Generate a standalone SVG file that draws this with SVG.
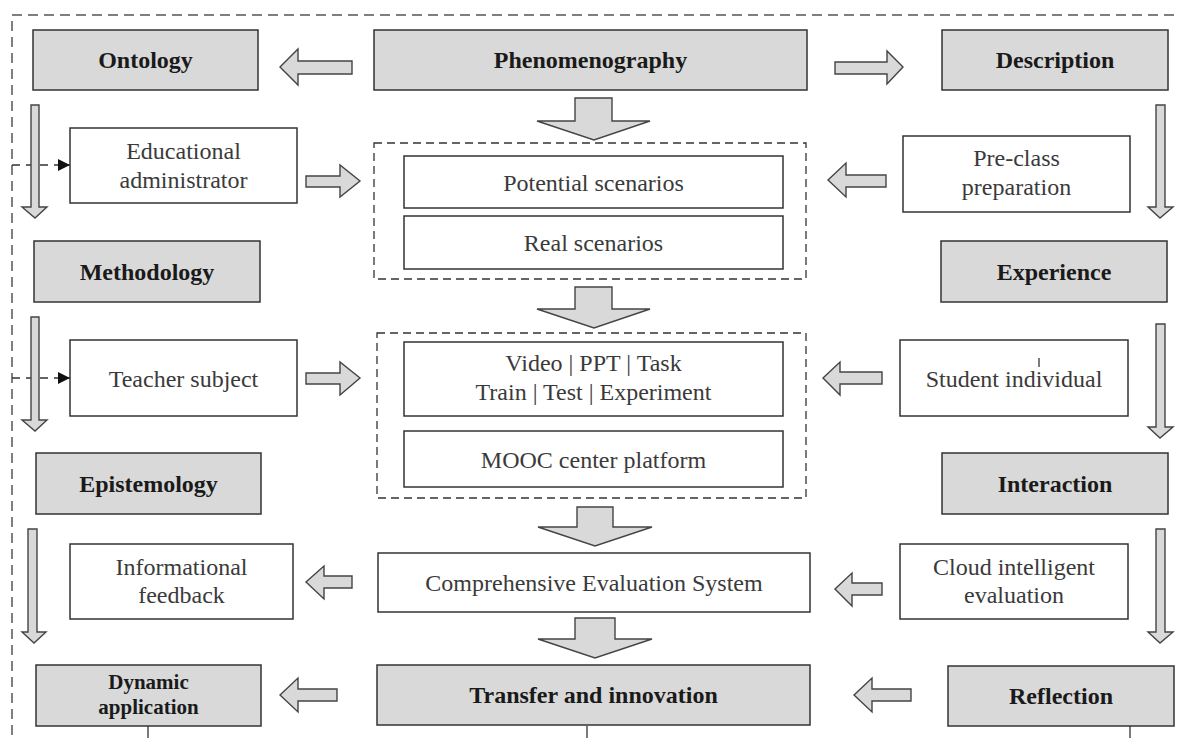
<svg xmlns="http://www.w3.org/2000/svg" width="1179" height="738" viewBox="0 0 1179 738">
<style>
.g{fill:#d9d9d9;stroke:#333;stroke-width:1.5}
.w{fill:#fff;stroke:#333;stroke-width:1.5}
.grp{fill:none;stroke:#333;stroke-width:1.3;stroke-dasharray:8 5}
.ar{fill:#d9d9d9;stroke:#444;stroke-width:1.4;stroke-linejoin:miter}
.b{font-family:"Liberation Serif",serif;font-weight:bold;font-size:24px;fill:#1a1a1a;text-anchor:middle}
.t{font-family:"Liberation Serif",serif;font-size:24px;fill:#3a3a3a;text-anchor:middle}
.dc{fill:none;stroke:#333;stroke-width:1.3;stroke-dasharray:8 6}
.tk{stroke:#333;stroke-width:1.3}
</style>
<defs>
<marker id="ah" viewBox="0 0 10 10" refX="10" refY="5" markerWidth="12" markerHeight="12" markerUnits="userSpaceOnUse" orient="auto">
<path d="M0,0 L10,5 L0,10 z" fill="#111"/>
</marker>
</defs>
<rect width="1179" height="738" fill="#fff"/>
<path d="M12,735 V15 H1179" fill="none" stroke="#555" stroke-width="1.5" stroke-dasharray="10 6"/>

<g id="connectors">
<path class="dc" d="M12,165 H70" marker-end="url(#ah)"/>
<path class="dc" d="M12,378 H70" marker-end="url(#ah)"/>
<line class="tk" x1="148" y1="726" x2="148" y2="738"/>
<line class="tk" x1="587" y1="726" x2="587" y2="738"/>
<line class="tk" x1="1130" y1="726" x2="1130" y2="738"/>
<polygon class="ar" points="280,67 298,49 298,61 352,61 352,74 298,74 298,85"/>
<polygon class="ar" points="835,62 887,62 887,51 903,67 887,84 887,74 835,74"/>
<polygon class="ar" points="306,176 340,176 340,165 360,181 340,197 340,187 306,187"/>
<polygon class="ar" points="306,373 340,373 340,362 360,378 340,395 340,384 306,384"/>
<polygon class="ar" points="828,180 846,163 846,175 886,175 886,187 846,187 846,197"/>
<polygon class="ar" points="823,378 840,362 840,372 882,372 882,384 840,384 840,395"/>
<polygon class="ar" points="306,582 324,566 324,576 352,576 352,588 324,588 324,599"/>
<polygon class="ar" points="835,589 852,573 852,583 882,583 882,595 852,595 852,606"/>
<polygon class="ar" points="280,695 298,678 298,689 337,689 337,701 298,701 298,712"/>
<polygon class="ar" points="854,695 872,678 872,689 911,689 911,701 872,701 872,712"/>
<polygon class="ar" points="575,98 612,98 612,121 650,121 594,140 537,121 575,121"/>
<polygon class="ar" points="575,287 612,287 612,309 650,309 594,328 537,309 575,309"/>
<polygon class="ar" points="577,507 613,507 613,527 652,527 595,546 538,527 577,527"/>
<polygon class="ar" points="575,618 615,618 615,639 652,639 595,658 538,639 575,639"/>
<polygon class="ar" points="31,105 39,105 39,207 47,207 35,218 22,207 31,207"/>
<polygon class="ar" points="31,317 39,317 39,420 47,420 35,431 22,420 31,420"/>
<polygon class="ar" points="28,529 37,529 37,632 46,632 34,643 22,632 28,632"/>
<polygon class="ar" points="1156,105 1165,105 1165,207 1173,207 1160,218 1148,207 1156,207"/>
<polygon class="ar" points="1156,324 1165,324 1165,427 1173,427 1160,438 1148,427 1156,427"/>
<polygon class="ar" points="1156,529 1165,529 1165,632 1173,632 1160,643 1148,632 1156,632"/>
</g>

<g id="ontology"><rect class="g" x="33" y="30" width="225" height="60"/><text class="b" x="145.5" y="68">Ontology</text></g>
<g id="phenomenography"><rect class="g" x="374" y="30" width="433" height="60"/><text class="b" x="590.5" y="68">Phenomenography</text></g>
<g id="description"><rect class="g" x="942" y="30" width="226" height="60"/><text class="b" x="1055" y="68">Description</text></g>

<g id="educational-administrator"><rect class="w" x="70" y="128" width="227" height="75"/><text class="t" x="183.5" y="159">Educational</text><text class="t" x="183.5" y="188">administrator</text></g>
<g id="scenarios-group"><rect class="grp" x="374" y="143" width="432" height="136"/></g>
<g id="potential-scenarios"><rect class="w" x="404" y="156" width="379" height="52"/><text class="t" x="593.5" y="191">Potential scenarios</text></g>
<g id="real-scenarios"><rect class="w" x="404" y="216" width="379" height="53"/><text class="t" x="593.5" y="251">Real scenarios</text></g>
<g id="pre-class"><rect class="w" x="903" y="136" width="227" height="76"/><text class="t" x="1016.5" y="166">Pre-class</text><text class="t" x="1016.5" y="195">preparation</text></g>

<g id="methodology"><rect class="g" x="34" y="241" width="226" height="61"/><text class="b" x="147" y="280">Methodology</text></g>
<g id="experience"><rect class="g" x="941" y="241" width="226" height="61"/><text class="b" x="1054" y="280">Experience</text></g>

<g id="teacher-subject"><rect class="w" x="70" y="340" width="227" height="76"/><text class="t" x="183.5" y="387">Teacher subject</text></g>
<g id="resources-group"><rect class="grp" x="377" y="333" width="429" height="165"/></g>
<g id="resources"><rect class="w" x="404" y="342" width="379" height="74"/><text class="t" x="593.5" y="371">Video | PPT | Task</text><text class="t" x="593.5" y="400">Train | Test | Experiment</text></g>
<g id="mooc"><rect class="w" x="404" y="431" width="379" height="56"/><text class="t" x="593.5" y="468">MOOC center platform</text></g>
<g id="student-individual"><rect class="w" x="900" y="340" width="228" height="76"/><text class="t" x="1014" y="387">Student individual</text><line class="tk" x1="1039" y1="358" x2="1039" y2="367"/></g>

<g id="epistemology"><rect class="g" x="36" y="453" width="225" height="61"/><text class="b" x="148.5" y="492">Epistemology</text></g>
<g id="interaction"><rect class="g" x="942" y="453" width="226" height="61"/><text class="b" x="1055" y="492">Interaction</text></g>

<g id="informational-feedback"><rect class="w" x="70" y="544" width="223" height="75"/><text class="t" x="181.5" y="575">Informational</text><text class="t" x="181.5" y="603">feedback</text></g>
<g id="comprehensive-evaluation"><rect class="w" x="378" y="553" width="432" height="59"/><text class="t" x="594" y="591">Comprehensive Evaluation System</text></g>
<g id="cloud-evaluation"><rect class="w" x="900" y="544" width="228" height="75"/><text class="t" x="1014" y="575">Cloud intelligent</text><text class="t" x="1014" y="603">evaluation</text></g>

<g id="dynamic-application"><rect class="g" x="36" y="665" width="225" height="61"/><text class="b" x="148.5" y="689" style="font-size:21px">Dynamic</text><text class="b" x="148.5" y="714" style="font-size:21px">application</text></g>
<g id="transfer-innovation"><rect class="g" x="377" y="665" width="433" height="60"/><text class="b" x="593.5" y="703">Transfer and innovation</text></g>
<g id="reflection"><rect class="g" x="948" y="666" width="226" height="60"/><text class="b" x="1061" y="704">Reflection</text></g>
</svg>
